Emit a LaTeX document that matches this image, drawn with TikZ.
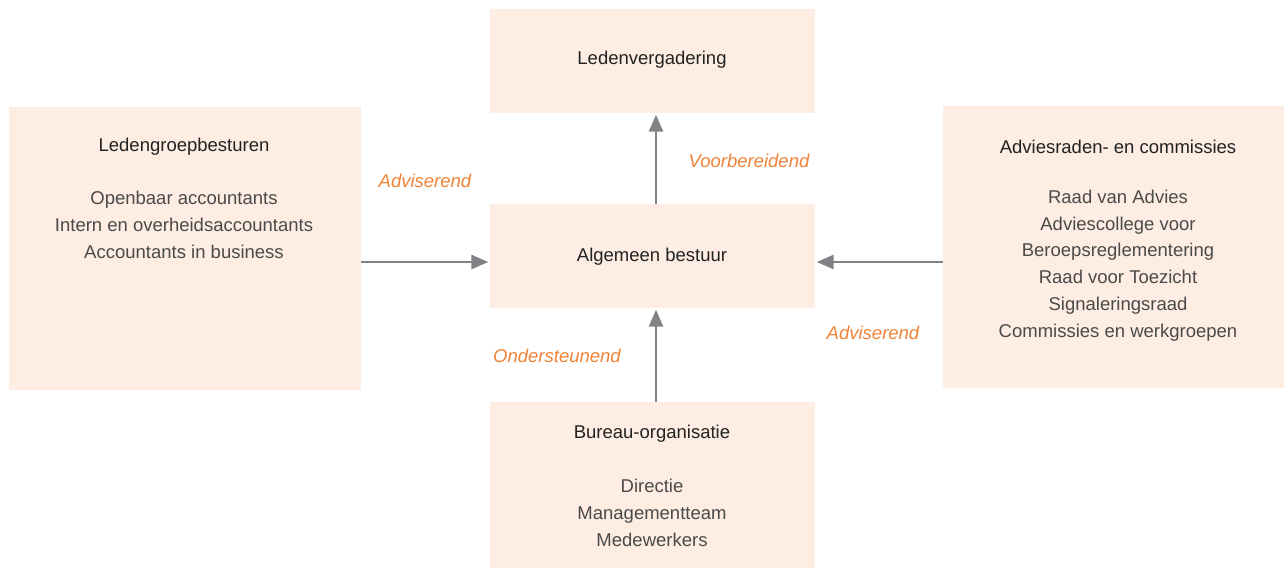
\documentclass[tikz,border=0pt]{standalone}
\usepackage{fontspec}
\setmainfont{Liberation Sans}
\usetikzlibrary{arrows.meta}
\definecolor{boxfill}{HTML}{FDEDE2}
\definecolor{lblcol}{HTML}{F08236}
\definecolor{arrcol}{HTML}{808285}
\definecolor{ttlcol}{HTML}{222222}
\definecolor{lstcol}{HTML}{4A4A4A}
\begin{document}
\begin{tikzpicture}[x=1pt,y=-1pt,
  orgbox/.style={fill=boxfill, draw=none, inner sep=0pt},
  ttl/.style={text=ttlcol, font=\fontsize{18.5}{26.5}\selectfont, inner sep=0pt},
  lst/.style={text=lstcol, font=\fontsize{18.5}{26.8}\selectfont, align=center, inner sep=0pt},
  lbl/.style={text=lblcol, font=\fontsize{18.5}{22}\selectfont\itshape, inner sep=0pt},
  conn/.style={draw=arrcol, line width=2.7pt, -{Triangle[length=17pt,width=14pt]}, shorten >=1.5pt}
]
\useasboundingbox (0,0) rectangle (1284,568);
% boxes
\node[orgbox, minimum width=325pt, minimum height=104pt] (lv) at (652.5,61) {};
\node[orgbox, minimum width=352pt, minimum height=283pt] (lg) at (185,248.5) {};
\node[orgbox, minimum width=325pt, minimum height=104pt] (ab) at (652.5,256) {};
\node[orgbox, minimum width=341pt, minimum height=282pt] (ar) at (1113.5,247) {};
\node[orgbox, minimum width=325pt, minimum height=166pt] (bo) at (652.5,485) {};
% texts
\node[ttl] (lvt) at (652,60) {Ledenvergadering};
\node[ttl] (lgt) at (184,147) {Ledengroepbesturen};
\node[lst] (lgl) at (184,225) {Openbaar accountants\\Intern en overheidsaccountants\\Accountants in business};
\node[ttl] (abt) at (652,257) {Algemeen bestuur};
\node[ttl] (art) at (1118,147) {Adviesraden- en commissies};
\node[lst] (arl) at (1118,265.5) {Raad van Advies\\Adviescollege voor\\Beroepsreglementering\\Raad voor Toezicht\\Signaleringsraad\\Commissies en werkgroepen};
\node[ttl] (bot) at (652,434) {Bureau-organisatie};
\node[lst] (bol) at (652,513) {Directie\\Managementteam\\Medewerkers};
% connectors
\draw[conn] (lg.east |- 0,262) coordinate (c1) -- (c1 -| ab.west);
\draw[conn] (ar.west |- 0,262) coordinate (c2) -- (c2 -| ab.east);
\draw[conn] (ab.north -| 656,0) coordinate (c3) -- (c3 |- lv.south);
\draw[conn] (bo.north -| 656,0) coordinate (c4) -- (c4 |- ab.south);
% labels
\node[lbl] (l1) at (425,181) {Adviserend};
\node[lbl] (l2) at (749,161) {Voorbereidend};
\node[lbl] (l3) at (557,356) {Ondersteunend};
\node[lbl] (l4) at (873,333) {Adviserend};
\end{tikzpicture}
\end{document}
